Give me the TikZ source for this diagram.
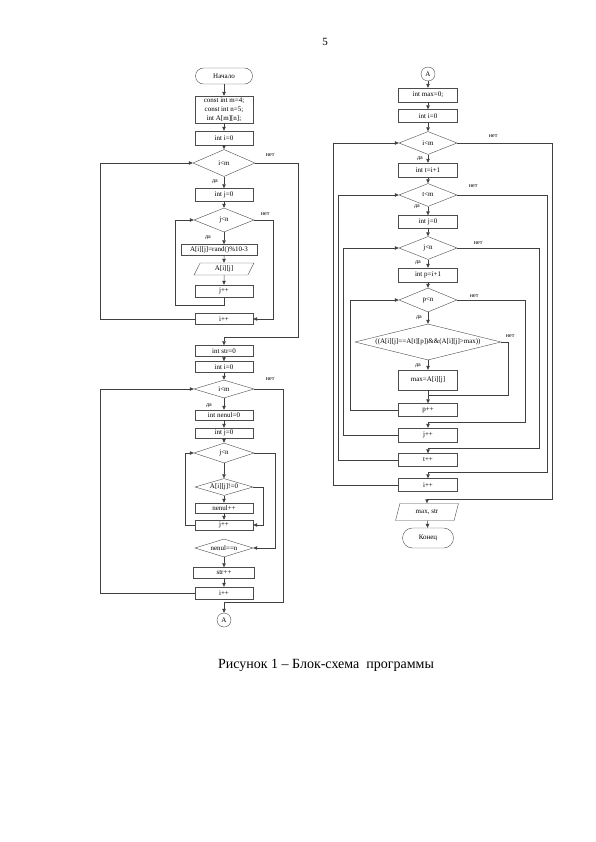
\documentclass[tikz,border=0pt]{standalone}
\usepackage{fontspec}
\setmainfont{Liberation Serif}
\usetikzlibrary{arrows.meta, positioning, calc, shapes}

\begin{document}
\begin{tikzpicture}[x=1pt, y=-1pt,
  every node/.style={font=\fontsize{7}{9}\selectfont, inner sep=0pt},
  box/.style={draw=black!70, rectangle, minimum width=58pt, minimum height=12pt, align=center},
  cond/.style={draw=black!70, diamond, minimum width=60pt, minimum height=24pt, aspect=2.5},
  io/.style={draw=black!70, trapezium, trapezium left angle=70, trapezium right angle=110,
    trapezium stretches=true, minimum width=64pt, minimum height=12pt},
  term/.style={draw=black!70, rectangle, rounded corners=8pt, minimum width=57pt, minimum height=16pt},
  conn/.style={draw=black!70, circle, minimum size=14pt},
  lbl/.style={font=\fontsize{6}{7}\selectfont},
  arr/.style={draw=black!75, line width=0.5pt, -{Triangle[length=4pt,width=3.5pt]}},
  ln/.style={draw=black!75, line width=0.5pt}]
  \useasboundingbox (0,0) rectangle (595,842);

  \node[font=\fontsize{11}{13}\selectfont] (page) at (325,42) {5};

  % left column
  \node[term] (start) at (224,76) {Начало};
  \node[box, minimum height=27pt] (decl) at (224,109.5) {const int m=4;\\const int n=5;\\int A[m][n];};
  \node[box, minimum height=14pt] (li0) at (224,138) {int i=0};
  \node[cond, minimum width=62pt, minimum height=27pt, aspect=2.3] (lci) at (224,163) {i<m};
  \node[box, minimum height=13pt] (lj0) at (224,195) {int j=0};
  \node[cond] (lcj) at (224,220) {j<n};
  \node[box, minimum width=76pt, minimum height=11pt] (lrand) at (219,250) {A[i][j]=rand()\%10-3};
  \node[io, minimum width=60pt] (lout) at (224,269) {A[i][j]};
  \node[box] (ljpp) at (224,291) {j++};
  \node[box, minimum height=11pt] (lipp) at (224,319) {i++};

  \draw[arr] (start) -- (decl);
  \draw[arr] (decl) -- (li0);
  \draw[arr] (li0) -- (lci);
  \draw[arr] (lci) -- (lj0);
  \draw[arr] (lj0) -- (lcj);
  \draw[arr] (lcj.south) -- (lcj.south |- lrand.north);
  \draw[arr] (lcj.south |- lrand.south) -- (lout.north);
  \draw[arr] (lout) -- (ljpp);
  \draw[arr] (ljpp.south) |- ++(-49,8) |- (lcj.west);
  \draw[arr] (lcj.east) -- ++(19,0) |- (lipp.east);
  \draw[arr] (lipp.west) -- ++(-95,0) |- (lci.west);
  \node[lbl] at ($(lci.south)+(-9,5)$) {да};
  \node[lbl] at ($(lci.east)+(15,-8)$) {нет};
  \node[lbl] at ($(lcj.south)+(-16,5)$) {да};
  \node[lbl] at ($(lcj.east)+(11,-6)$) {нет};

  \node[box, minimum height=11pt] (lstr) at (224,351) {int str=0};
  \node[box, minimum height=11pt] (li1) at (224,367) {int i=0};
  \node[cond, minimum height=18pt, aspect=3.3] (lci2) at (224,389) {i<m};
  \node[box, minimum height=10pt] (lnen) at (224,415) {int nenul=0};
  \node[box, minimum height=10pt] (lj1) at (224,433) {int j=0};
  \node[cond, minimum height=20pt, aspect=3] (lcj2) at (224,453) {j<n};
  \node[cond, minimum width=58pt, minimum height=17pt, aspect=3.4] (lcz) at (224,487) {A[i][j]!=0};
  \node[box, minimum height=10pt] (lnpp) at (224,508) {nenul++};
  \node[box, minimum height=10pt] (ljpp2) at (224,525) {j++};
  \node[cond, minimum width=58pt, minimum height=18pt, aspect=3.2] (lcn) at (224,548) {nenul==n};
  \node[box, minimum width=61pt, minimum height=11pt] (lspp) at (224,573) {str++};
  \node[box] (lipp2) at (224,593) {i++};
  \node[conn] (lA) at (224,620) {A};

  \draw[arr] (lci.east) -- ++(43,0) -- ++(0,174) -| (lstr.north);
  \draw[arr] (lstr) -- (li1);
  \draw[arr] (li1) -- (lci2);
  \draw[arr] (lci2) -- (lnen);
  \draw[arr] (lnen) -- (lj1);
  \draw[arr] (lj1) -- (lcj2);
  \draw[arr] (lcj2) -- (lcz);
  \draw[arr] (lcz) -- (lnpp);
  \draw[arr] (lnpp) -- (ljpp2);
  \draw[arr] (lcz.east) -- ++(10,0) |- (ljpp2.east);
  \draw[arr] (ljpp2.west) -- ++(-10,0) |- (lcj2.west);
  \draw[arr] (lcj2.east) -- ++(21,0) |- (lcn.east);
  \draw[arr] (lcn) -- (lspp);
  \draw[arr] (lspp) -- (lipp2);
  \draw[arr] (lipp2.west) -- ++(-95,0) |- (lci2.west);
  \draw[arr] (lci2.east) -- ++(29,0) -- ++(0,213) -| (lA.north);
  \node[lbl] at ($(lci2.south)+(-15,7)$) {да};
  \node[lbl] at ($(lci2.east)+(16,-10)$) {нет};

  % right column
  \node[conn] (rA) at (428,74) {A};
  \node[box, minimum width=59pt, minimum height=14pt] (rmax) at (428,95) {int max=0;};
  \node[box, minimum width=59pt, minimum height=13pt] (ri0) at (428,116) {int i=0};
  \node[cond, minimum width=58pt, minimum height=23pt] (rci) at (428,143) {i<m};
  \node[box, minimum width=59pt, minimum height=14pt] (rt) at (428,170) {int t=i+1};
  \node[cond, minimum width=58pt, minimum height=23pt] (rct) at (428,195) {t<m};
  \node[box, minimum width=59pt, minimum height=13pt] (rj0) at (428,222) {int j=0};
  \node[cond, minimum width=58pt, minimum height=23pt] (rcj) at (428,248) {j<n};
  \node[box, minimum width=59pt, minimum height=14pt] (rp) at (428,275) {int p=i+1};
  \node[cond, minimum width=58pt, minimum height=24pt] (rcp) at (428,300) {p<n};
  \node[cond, minimum width=146pt, minimum height=36pt, aspect=4] (rcb) at (428,342) {((A[i][j]==A[t][p])\&\&(A[i][j]>max))};
  \node[box, minimum width=59pt, minimum height=20pt] (rset) at (428,380) {max=A[i][j]};
  \node[box, minimum width=59pt, minimum height=13pt] (rppp) at (428,410) {p++};
  \node[box, minimum width=59pt, minimum height=14pt] (rjpp) at (428,435) {j++};
  \node[box, minimum width=59pt, minimum height=13pt] (rtpp) at (428,460) {t++};
  \node[box, minimum width=59pt, minimum height=13pt] (ripp) at (428,485) {i++};
  \node[io, minimum width=63pt, minimum height=17pt] (rout) at (427,512) {max, str};
  \node[term, minimum width=51pt, minimum height=20pt, rounded corners=10pt] (rend) at (428,538) {Конец};

  \draw[arr] (rA) -- (rmax);
  \draw[arr] (rmax) -- (ri0);
  \draw[arr] (ri0) -- (rci);
  \draw[arr] (rci) -- (rt);
  \draw[arr] (rt) -- (rct);
  \draw[arr] (rct) -- (rj0);
  \draw[arr] (rj0) -- (rcj);
  \draw[arr] (rcj) -- (rp);
  \draw[arr] (rp) -- (rcp);
  \draw[arr] (rcp) -- (rcb);
  \draw[arr] (rcb) -- (rset);
  \draw[arr] (rset) -- (rppp);
  \draw[ln] (rcb.east) -- ++(7,0) |- ($(rset.south)!0.4!(rppp.north)$);
  \draw[arr] (rppp.west) -- ++(-48,0) |- (rcp.west);
  \draw[arr] (rcp.east) -- ++(68,0) -- ++(0,122) -| (rjpp.north);
  \draw[arr] (rjpp.west) -- ++(-55,0) |- (rcj.west);
  \draw[arr] (rcj.east) -- ++(82,0) -- ++(0,200) -| (rtpp.north);
  \draw[arr] (rtpp.west) -- ++(-60,0) |- (rct.west);
  \draw[arr] (rct.east) -- ++(90,0) -- ++(0,277) -| (ripp.north);
  \draw[arr] (ripp.west) -- ++(-65,0) |- (rci.west);
  \draw[arr] (rci.east) -- ++(95,0) -- ++(0,356) -| (rout.north);
  \draw[arr] (rout) -- (rend);

  \node[lbl] at ($(rci.south)+(-8,4)$) {да};
  \node[lbl] at ($(rci.east)+(36,-7)$) {нет};
  \node[lbl] at ($(rct.south)+(-11,0)$) {да};
  \node[lbl] at ($(rct.east)+(16,-9)$) {нет};
  \node[lbl] at ($(rcj.south)+(-10,3)$) {да};
  \node[lbl] at ($(rcj.east)+(21,-5)$) {нет};
  \node[lbl] at ($(rcp.south)+(-9,5)$) {да};
  \node[lbl] at ($(rcp.east)+(17,-4)$) {нет};
  \node[lbl] at ($(rcb.south)+(-10,5)$) {да};
  \node[lbl] at ($(rcb.east)+(9,-6)$) {нет};

  \node[font=\fontsize{14}{16}\selectfont] (caption) at (326,665) {Рисунок 1 – Блок-схема\ \ программы};
\end{tikzpicture}
\end{document}
